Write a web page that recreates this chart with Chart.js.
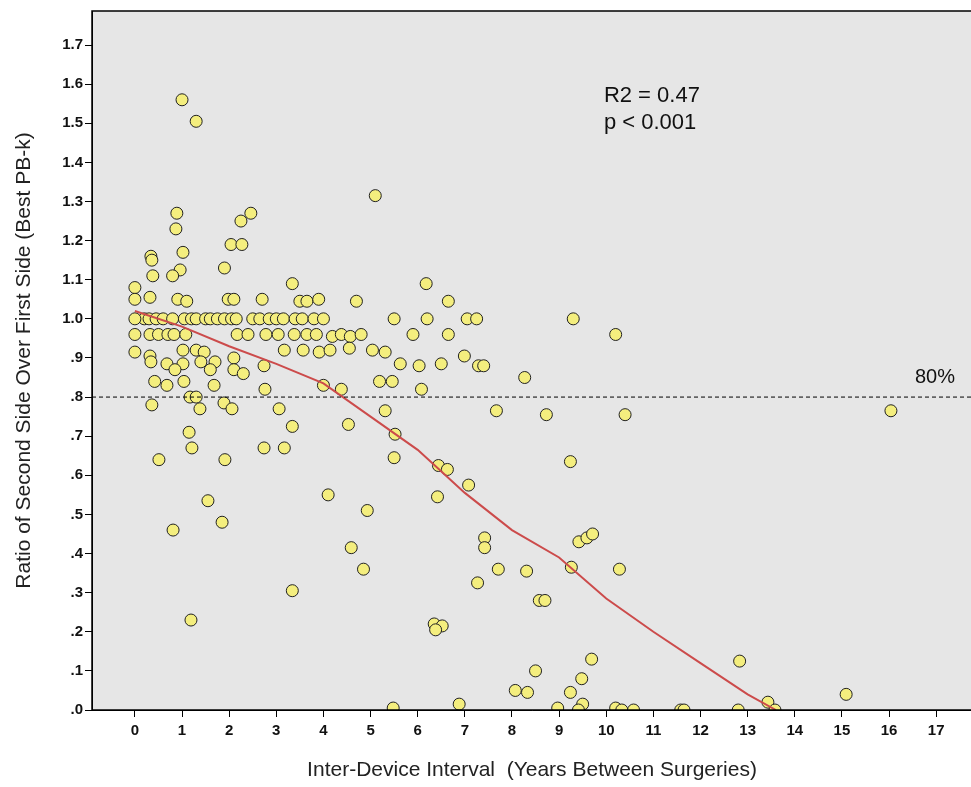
<!DOCTYPE html>
<html><head><meta charset="utf-8">
<script src="https://cdn.jsdelivr.net/npm/chart.js@4/dist/chart.umd.min.js"></script>
<style>body{margin:0;background:#fff;overflow:hidden}#wrap{width:979px;height:787px}</style>
</head><body><div id="wrap"><canvas id="c"></canvas></div>
<script>
const xVals = [0.2,0.3,0.45,0.6,0.8,1.05,1.2,1.3,1.5,1.6,1.75,1.9,2.05,2.15,2.5,2.65,2.85,3.0,3.15,3.4,3.55,3.8,4.0,5.5,6.2,7.05,7.25,9.3,
  1.0,1.3,5.1,0.89,2.46,2.25,0.87,2.04,2.27,1.02,0.34,0.36,1.9,0.96,0.38,0.8,0,0,3.34,6.18,0.91,1.1,1.98,2.1,2.7,3.5,3.65,3.9,4.7,6.65,0.32,
  0,0,0.32,0.5,0.7,0.83,1.08,2.17,2.4,2.78,3.04,3.38,3.65,3.85,4.19,4.38,4.57,4.8,5.9,6.65,10.2,
  0.32,1.02,1.3,1.47,3.17,3.57,3.91,4.14,4.55,5.04,5.31,0.34,0.68,1.02,1.4,1.7,2.1,5.63,6.03,6.5,6.99,7.29,7.4,
  0.85,1.6,2.1,2.3,2.74,8.27,0.42,0.68,1.04,1.68,2.76,4.0,4.38,5.19,5.46,6.08,1.17,1.3,
  0.36,1.89,1.38,2.06,3.06,5.31,7.67,8.73,10.4,16.04,3.34,4.53,1.15,5.52,
  1.21,2.74,3.17,0.51,1.91,5.5,6.44,6.63,9.24,1.55,1.85,4.1,4.93,6.42,7.08,
  0.81,4.59,7.42,7.42,9.42,9.59,9.71,4.85,7.71,8.31,9.26,10.28,7.27,3.34,8.58,8.7,
  1.19,6.35,6.52,6.38,9.69,12.83,8.5,9.48,8.07,8.33,9.24,15.09,6.88,9.5,13.43,5.48,8.97,9.41,10.2,10.33,10.58,11.58,11.65,12.8,13.58,0];
const yVals = [1,1,1,1,1,1,1,1,1,1,1,1,1,1,1,1,1,1,1,1,1,1,1,1,1,1,1,1,
  1.56,1.505,1.315,1.27,1.27,1.25,1.23,1.19,1.19,1.17,1.16,1.15,1.13,1.125,1.11,1.11,1.08,1.05,1.09,1.09,1.05,1.045,1.05,1.05,1.05,1.045,1.045,1.05,1.045,1.045,1.055,
  0.96,0.915,0.96,0.96,0.96,0.96,0.96,0.96,0.96,0.96,0.96,0.96,0.96,0.96,0.955,0.96,0.955,0.96,0.96,0.96,0.96,
  0.905,0.92,0.92,0.915,0.92,0.92,0.915,0.92,0.925,0.92,0.915,0.89,0.885,0.885,0.89,0.89,0.9,0.885,0.88,0.885,0.905,0.88,0.88,
  0.87,0.87,0.87,0.86,0.88,0.85,0.84,0.83,0.84,0.83,0.82,0.83,0.82,0.84,0.84,0.82,0.8,0.8,
  0.78,0.785,0.77,0.77,0.77,0.765,0.765,0.755,0.755,0.765,0.725,0.73,0.71,0.705,
  0.67,0.67,0.67,0.64,0.64,0.645,0.625,0.615,0.635,0.535,0.48,0.55,0.51,0.545,0.575,
  0.46,0.415,0.44,0.415,0.43,0.44,0.45,0.36,0.36,0.355,0.365,0.36,0.325,0.305,0.28,0.28,
  0.23,0.22,0.215,0.205,0.13,0.125,0.1,0.08,0.05,0.045,0.045,0.04,0.015,0.015,0.02,0.005,0.005,0,0.005,0,0,0,0,0,0,1];
const fitX = [0,1,2,3,4,5,6,7,8,9,10,11,12,13,13.6];
const fitY = [1.02,0.98,0.93,0.885,0.835,0.75,0.665,0.555,0.46,0.39,0.285,0.2,0.12,0.04,0.0];
const xTicks = [0,1,2,3,4,5,6,7,8,9,10,11,12,13,14,15,16,17];
const yTicks = [0,0.1,0.2,0.3,0.4,0.5,0.6,0.7,0.8,0.9,1.0,1.1,1.2,1.3,1.4,1.5,1.6,1.7];
const refLine = 0.8;

const font = "'Liberation Sans', Arial, sans-serif";
const extras = {
  id: 'extras',
  beforeDraw(ch) {
    const a = ch.chartArea, c = ch.ctx;
    c.save(); c.fillStyle = '#e6e6e6'; c.fillRect(a.left, a.top, a.right - a.left, a.bottom - a.top); c.restore();
  },
  afterDatasetsDraw(ch) {
    const c = ch.ctx, x = ch.scales.x, y = ch.scales.y, a = ch.chartArea;
    c.save();
    c.strokeStyle = '#000'; c.lineWidth = 1; c.setLineDash([4, 3]);
    c.beginPath(); c.moveTo(a.left, y.getPixelForValue(refLine)); c.lineTo(a.right, y.getPixelForValue(refLine)); c.stroke();
    c.setLineDash([]);
    c.fillStyle = '#111'; c.font = '20px ' + font;
    c.fillText('80%', x.getPixelForValue(16.55), y.getPixelForValue(0.835));
    c.font = '22px ' + font;
    c.fillText('R2 = 0.47', x.getPixelForValue(9.95), y.getPixelForValue(1.555));
    c.fillText('p < 0.001', x.getPixelForValue(9.95), y.getPixelForValue(1.485));
    c.strokeStyle = '#000'; c.lineWidth = 1.5; c.strokeRect(a.left, a.top, a.right - a.left, a.bottom - a.top);
    c.restore();
  }
};

new Chart(document.getElementById('c'), {
  type: 'scatter',
  data: {
    datasets: [
      { type: 'line', data: fitX.map((v, i) => ({ x: v, y: fitY[i] })), borderColor: '#cc4b4b', borderWidth: 2, pointRadius: 0, tension: 0 },
      { data: xVals.map((v, i) => ({ x: v, y: yVals[i] })), backgroundColor: '#f4ee7e', borderColor: '#222', borderWidth: 1, pointRadius: 6 }
    ]
  },
  plugins: [extras],
  options: {
    responsive: true, maintainAspectRatio: false, animation: false,
    layout: { padding: { top: 10, right: 0, left: 8 } },
    plugins: { legend: { display: false }, tooltip: { enabled: false } },
    scales: {
      x: {
        type: 'linear', min: -0.91, max: 17.76,
        afterBuildTicks: s => { s.ticks = xTicks.map(v => ({ value: v })); },
        afterFit: s => { s.height = 77; },
        grid: { drawOnChartArea: false, color: '#000', tickLength: 7 },
        border: { color: '#000' },
        ticks: { color: '#111', font: { family: font, size: 15, weight: 'bold' }, padding: 5 },
        title: { display: true, text: 'Inter-Device Interval  (Years Between Surgeries)', color: '#222', font: { family: font, size: 21 }, padding: { top: 6 } }
      },
      y: {
        min: 0, max: 1.787,
        afterBuildTicks: s => { s.ticks = yTicks.map(v => ({ value: v })); },
        afterFit: s => { s.width = 84; },
        grid: { drawOnChartArea: false, color: '#000', tickLength: 7 },
        border: { color: '#000' },
        ticks: { color: '#111', font: { family: font, size: 15, weight: 'bold' }, padding: 2,
          callback: v => { const t = v.toFixed(1); return t.startsWith('0') ? t.slice(1) : t; } },
        title: { display: true, text: 'Ratio of Second Side Over First Side (Best PB-k)', color: '#222', font: { family: font, size: 21 }, padding: { bottom: 6 } }
      }
    }
  }
});
</script></body></html>
